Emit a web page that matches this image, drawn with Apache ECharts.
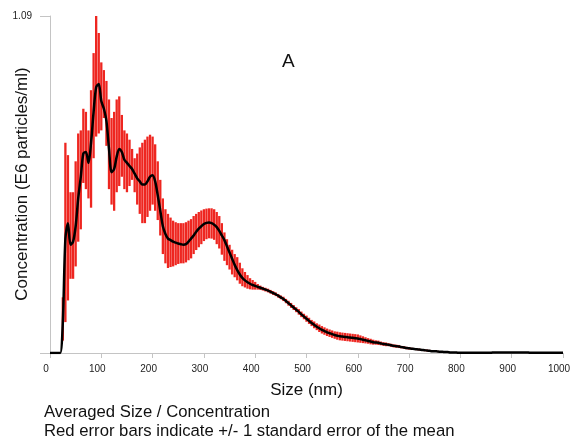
<!DOCTYPE html>
<html><head><meta charset="utf-8">
<script src="https://cdn.jsdelivr.net/npm/echarts@6/dist/echarts.min.js"></script>
<style>html,body{margin:0;padding:0;background:#fff}#c{width:585px;height:443px}</style>
</head><body><div id="c"></div>
<script>
// x tick labels
const xTicks = [0,100,200,300,400,500,600,700,800,900,1000];
// size grid: bins every 5 nm
const sizeStep = 5;
// averaged concentration (E6 particles/ml) at 0,5,10,...,1000 nm
const meanConc = [
 0,0,0,0,0,0.10,0.37,0.42,0.35,0.36,
 0.41,0.50,0.57,0.645,0.65,0.615,0.68,0.78,0.86,0.87,
 0.815,0.79,0.75,0.66,0.585,0.595,0.635,0.66,0.65,0.625,
 0.615,0.605,0.595,0.58,0.565,0.555,0.545,0.545,0.555,0.57,
 0.575,0.555,0.51,0.46,0.41,0.385,0.37,0.365,0.36,0.357,
 0.354,0.352,0.35,0.352,0.36,0.37,0.38,0.392,0.402,0.41,
 0.417,0.421,0.422,0.42,0.415,0.407,0.395,0.38,0.365,0.345,
 0.325,0.305,0.285,0.268,0.254,0.243,0.235,0.229,0.224,0.22,
 0.217,0.214,0.211,0.208,0.205,0.202,0.198,0.194,0.19,0.185,
 0.18,0.175,0.168,0.161,0.154,0.147,0.14,0.133,0.125,0.118,
 0.111,0.104,0.097,0.091,0.085,0.08,0.075,0.071,0.067,0.064,
 0.061,0.058,0.056,0.054,0.053,0.052,0.051,0.05,0.049,0.048,
 0.047,0.045,0.043,0.041,0.039,0.037,0.035,0.034,0.033,0.031,
 0.029,0.028,0.027,0.025,0.023,0.022,0.021,0.019,0.018,0.016,
 0.015,0.014,0.013,0.012,0.011,0.010,0.009,0.008,0.007,0.006,
 0.006,0.005,0.004,0.004,0.003,0.003,0.002,0.002,0.002,0.001,
 0.001,0.001,0.001,0.001,0.001,0.001,0.001,0.001,0.001,0.001,
 0.001,0.001,0.001,0.002,0.002,0.002,0.002,0.002,0.002,0.002,
 0.002,0.002,0.002,0.002,0.002,0.002,0.002,0.001,0.001,0.001,
 0.001,0.001,0.001,0.001,0.001,0.001,0.001,0.001,0.001,0.001,
 0.001
];
// error bars (mean +/- 1 SEM), first bin at 25 nm, step 5 nm
const errStart = 25;
const errLow = [
 0.04,0.10,0.17,0.24,0.24,0.28,0.36,0.40,0.55,0.53,
 0.50,0.47,0.63,0.70,0.71,0.72,0.76,0.67,0.53,0.48,
 0.46,0.52,0.54,0.57,0.53,0.52,0.54,0.56,0.52,0.48,
 0.45,0.42,0.42,0.44,0.46,0.48,0.46,0.43,0.38,0.32,
 0.29,0.275,0.278,0.28,0.284,0.288,0.29,0.29,0.293,0.30,
 0.306,0.32,0.333,0.342,0.352,0.362,0.368,0.371,0.370,0.366,
 0.352,0.338,0.318,0.298,0.284,0.27,0.254,0.245,0.235,0.224,
 0.216,0.212,0.208,0.206,0.205,0.205,0.205,0.204,0.202,0.199,
 0.196,0.192,0.188,0.184,0.179,0.174,0.168,0.161,0.153,0.146,
 0.139,0.132,0.124,0.116,0.109,0.101,0.094,0.087,0.080,0.074,
 0.068,0.063,0.059,0.055,0.052,0.049,0.046,0.043,0.041,0.040,
 0.039,0.038,0.037,0.036,0.035,0.034,0.033,0.032,0.031,0.030,
 0.028,0.027,0.027,0.026,0.025,0.023,0.022,0.022,0.020,0.018,
 0.017,0.016,0.015,0.014,0.012,0.011,0.010,0.010,0.009,0.008,
 0.007,0.006,0.005,0.004,0.004,0.004,0.003,0.002,0.002,0.001,
 0.001,0.001
];
const errHigh = [
 0.18,0.68,0.64,0.52,0.52,0.62,0.71,0.72,0.79,0.78,
 0.72,0.85,0.97,1.09,1.035,0.94,0.915,0.88,0.82,0.76,
 0.78,0.82,0.83,0.77,0.72,0.71,0.69,0.66,0.63,0.645,
 0.665,0.68,0.69,0.70,0.706,0.70,0.675,0.62,0.56,0.50,
 0.465,0.45,0.438,0.428,0.423,0.42,0.42,0.42,0.423,0.428,
 0.433,0.443,0.45,0.456,0.461,0.465,0.467,0.468,0.468,0.465,
 0.456,0.443,0.42,0.39,0.368,0.35,0.334,0.32,0.31,0.292,
 0.274,0.262,0.252,0.242,0.236,0.230,0.223,0.218,0.214,0.211,
 0.208,0.204,0.200,0.196,0.191,0.186,0.182,0.175,0.169,0.162,
 0.155,0.148,0.142,0.134,0.127,0.121,0.114,0.107,0.102,0.096,
 0.092,0.087,0.083,0.079,0.076,0.073,0.070,0.069,0.067,0.066,
 0.065,0.064,0.063,0.062,0.061,0.060,0.057,0.054,0.051,0.048,
 0.046,0.043,0.041,0.040,0.037,0.035,0.034,0.032,0.030,0.028,
 0.027,0.026,0.023,0.022,0.020,0.019,0.017,0.016,0.015,0.014,
 0.013,0.012,0.011,0.010,0.008,0.008,0.007,0.006,0.006,0.005,
 0.005,0.003
];
const yMax = 1.09;
const panelLabel = 'A';
const xTitle = 'Size (nm)';
const yTitle = 'Concentration (E6 particles/ml)';
const note1 = 'Averaged Size / Concentration';
const note2 = 'Red error bars indicate +/- 1 standard error of the mean';

const meanData = meanConc.map((v, i) => [i * sizeStep, v]);
const errData = errLow.map((lo, i) => [errStart + i * sizeStep, lo, errHigh[i]]);
const FONT = 'Liberation Sans, Arial, sans-serif';
const axisGray = '#c4c4c4';

const chart = echarts.init(document.getElementById('c'), null, {renderer: 'canvas'});
chart.setOption({
  animation: false,
  backgroundColor: '#fff',
  textStyle: {fontFamily: FONT},
  grid: {left: 50, right: 22, top: 16, bottom: 90, containLabel: false, outerBoundsMode: 'none'},
  xAxis: {
    type: 'value', min: 0, max: 1000, interval: 100,
    axisLine: {lineStyle: {color: axisGray, width: 1}},
    axisTick: {length: 5, lineStyle: {color: axisGray}},
    axisLabel: {fontSize: 10, color: '#222', margin: 11, padding: [0, 8, 0, 0], fontFamily: FONT,
      formatter: v => xTicks.includes(v) ? String(v) : ''},
    splitLine: {show: false},
    name: xTitle, nameLocation: 'middle', nameGap: 29, nameMoveOverlap: false,
    nameTextStyle: {fontSize: 17, color: '#111', fontFamily: FONT}
  },
  yAxis: {
    type: 'value', min: 0, max: yMax, interval: yMax,
    axisLine: {show: true, lineStyle: {color: axisGray, width: 1}},
    axisTick: {show: true, length: 10, lineStyle: {color: axisGray}},
    axisLabel: {fontSize: 10, color: '#222', margin: 18, fontFamily: FONT,
      formatter: v => v > 0 ? yMax.toFixed(2) : ''},
    splitLine: {show: false}
  },
  series: [
    {
      type: 'custom',
      data: errData,
      z: 2,
      encode: {x: 0, y: [1, 2]},
      renderItem: function (params, api) {
        const x = api.value(0);
        const top = api.coord([x, api.value(2)]);
        const bot = api.coord([x, api.value(1)]);
        const w = api.size([sizeStep, 0])[0] * 0.9;
        return {
          type: 'rect',
          shape: {x: top[0] - w / 2, y: top[1], width: w, height: Math.max(bot[1] - top[1], 0.5)},
          style: {fill: '#ee2620'}
        };
      }
    },
    {
      type: 'line',
      data: meanData,
      z: 5,
      showSymbol: false,
      smooth: 0.3,
      lineStyle: {color: '#000', width: 2.5},
      silent: true
    }
  ],
  graphic: [
    {type: 'text', x: 22, y: 184, rotation: Math.PI / 2,
      style: {text: yTitle, fontSize: 17, fill: '#111', fontFamily: FONT, align: 'center', verticalAlign: 'middle'}},
    {type: 'text', left: 282, top: 52, style: {text: panelLabel, fontSize: 19, fill: '#111', fontFamily: FONT}},
    {type: 'text', left: 44, top: 404, style: {text: note1, fontSize: 16.7, fill: '#111', fontFamily: FONT}},
    {type: 'text', left: 44, top: 423, style: {text: note2, fontSize: 16.7, fill: '#111', fontFamily: FONT}}
  ]
});
</script>
</body></html>
